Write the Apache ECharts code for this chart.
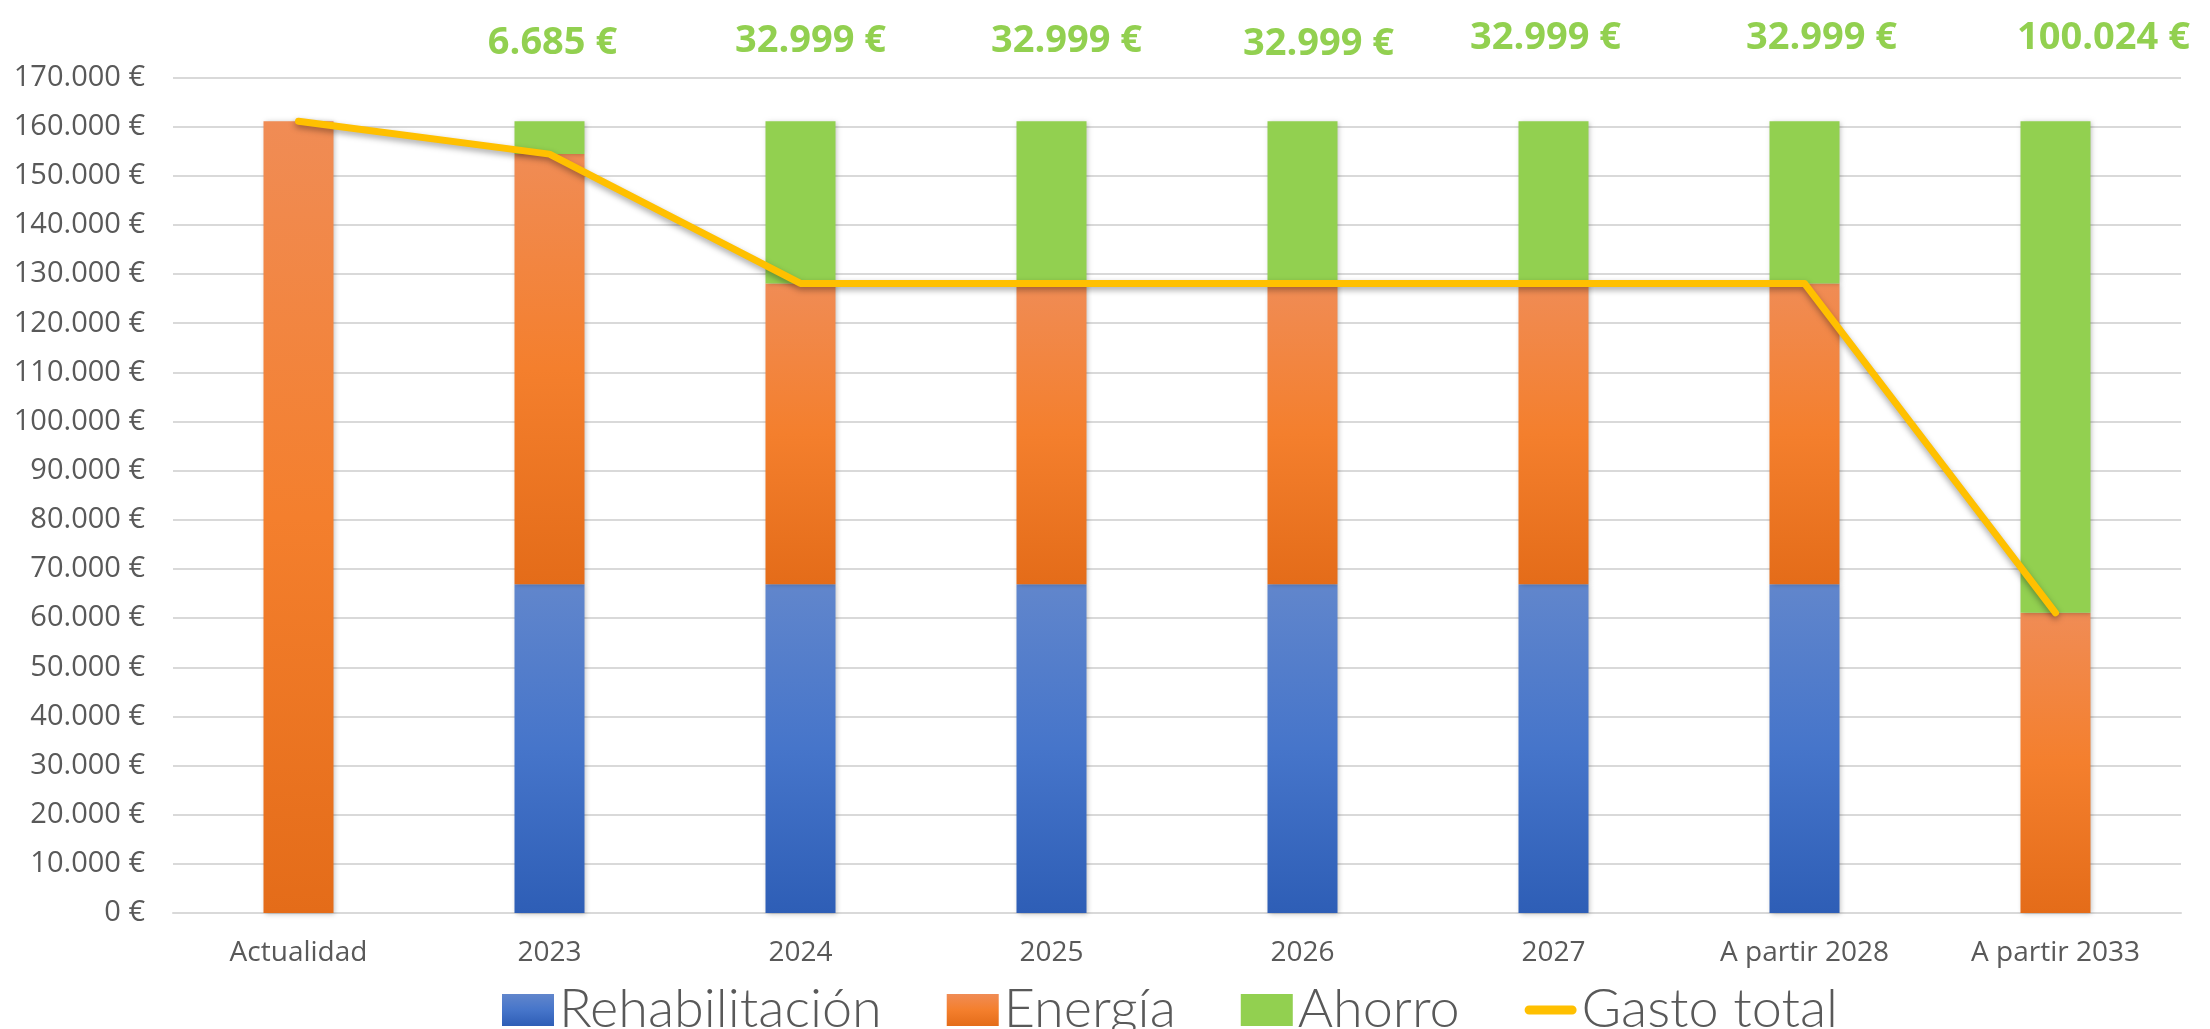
<!DOCTYPE html>
<html>
<head>
<meta charset="utf-8">
<title>Gasto total</title>
<script src="https://cdn.jsdelivr.net/npm/echarts@6/dist/echarts.min.js"></script>
<style>
    html, body { margin: 0; padding: 0; background: #fff; }
    #chart { width: 2210px; height: 1029px; }
</style>
</head>
<body>
<div id="chart"></div>
<script>

//////////////////////////////////////////////////////////////////
// [ Datos ]

const categories = ['Actualidad', '2023', '2024', '2025', '2026', '2027', 'A partir 2028', 'A partir 2033'];

const rehabilitacion = [0, 66900, 66900, 66900, 66900, 66900, 66900, 0];
const energia = [161100, 87515, 61201, 61201, 61201, 61201, 61201, 61076];
const ahorro = [0, 6685, 32999, 32999, 32999, 32999, 32999, 100024];
const gastoTotal = [161100, 154415, 128101, 128101, 128101, 128101, 128101, 61076];

const yTicks = { min: 0, max: 170000, interval: 10000 };

// desplazamiento manual de las etiquetas de ahorro (como en el Excel)
const ahorroLabelShift = [[0, 0], [3, 7], [10, 5], [15, 5], [16, 8], [-8, 2], [17, 2], [48, 2]];

//////////////////////////////////////////////////////////////////
// [ Helpers ]

function formatEuro(v) {
    return String(Math.round(v)).replace(/\B(?=(\d{3})+(?!\d))/g, '.') + ' €';
}

function vGradient(stops) {
    return new echarts.graphic.LinearGradient(0, 0, 0, 1, stops.map((c, i) => ({ offset: i / (stops.length - 1), color: c })));
}

const barShadow = {
    shadowColor: 'rgba(0, 0, 0, 0.25)',
    shadowBlur: 5,
    shadowOffsetX: 1,
    shadowOffsetY: 1
};

//////////////////////////////////////////////////////////////////
// [ Chart ]

document.addEventListener('DOMContentLoaded', function () {
    const chart = echarts.init(document.getElementById('chart'));

    const ahorroData = ahorro.map((v, i) => ({
        value: v,
        label: { offset: ahorroLabelShift[i] }
    }));

    const options = {
        animation: false,
        textStyle: { fontFamily: '"Open Sans", sans-serif' },
        grid: { left: 173, right: 29, top: 77.5, bottom: 116, containLabel: false },
        legend: {
            top: 978,
            left: 497,
            itemWidth: 52,
            itemHeight: 32,
            itemGap: 65,
            textStyle: {
                fontFamily: 'Lato, sans-serif',
                fontWeight: 300,
                fontSize: 54,
                color: '#595959'
            },
            data: [
                { name: 'Rehabilitación', icon: 'rect' },
                { name: 'Energía', icon: 'rect' },
                { name: 'Ahorro', icon: 'rect' },
                { name: 'Gasto total', icon: 'path://M5,0 L53,0 A5,5 0 0 1 53,10 L5,10 A5,5 0 0 1 5,0 Z' }
            ]
        },
        xAxis: {
            type: 'category',
            data: categories,
            axisLine: { lineStyle: { color: '#D9D9D9', width: 2 } },
            axisTick: { show: false },
            axisLabel: { color: '#595959', fontSize: 28, margin: 26 }
        },
        yAxis: {
            type: 'value',
            min: yTicks.min,
            max: yTicks.max,
            interval: yTicks.interval,
            axisLine: { show: false },
            axisTick: { show: false },
            splitLine: { lineStyle: { color: '#D9D9D9', width: 2 } },
            axisLabel: { color: '#595959', fontSize: 29, margin: 28, formatter: formatEuro }
        },
        series: [
            {
                name: 'Rehabilitación',
                type: 'bar',
                stack: 'total',
                barWidth: 70,
                data: rehabilitacion,
                itemStyle: Object.assign({ color: vGradient(['#6186CC', '#4675CA', '#2E5EB6']) }, barShadow)
            },
            {
                name: 'Energía',
                type: 'bar',
                stack: 'total',
                barWidth: 70,
                data: energia,
                itemStyle: Object.assign({ color: vGradient(['#F08C55', '#F47F2D', '#E46C19']) }, barShadow)
            },
            {
                name: 'Ahorro',
                type: 'bar',
                stack: 'total',
                barWidth: 70,
                data: ahorroData,
                itemStyle: Object.assign({ color: '#92D050' }, barShadow),
                label: {
                    show: true,
                    position: 'top',
                    distance: 66,
                    color: '#92D050',
                    fontSize: 38,
                    fontWeight: 'bold',
                    formatter: p => p.value ? formatEuro(p.value) : ''
                }
            },
            {
                name: 'Gasto total',
                type: 'line',
                data: gastoTotal,
                symbol: 'none',
                z: 5,
                lineStyle: {
                    color: '#FFC000',
                    width: 7,
                    cap: 'round',
                    join: 'round',
                    shadowColor: 'rgba(0, 0, 0, 0.35)',
                    shadowBlur: 6,
                    shadowOffsetY: 3
                },
                itemStyle: { color: '#FFC000' }
            }
        ]
    };

    chart.setOption(options);
});
</script>
</body>
</html>
